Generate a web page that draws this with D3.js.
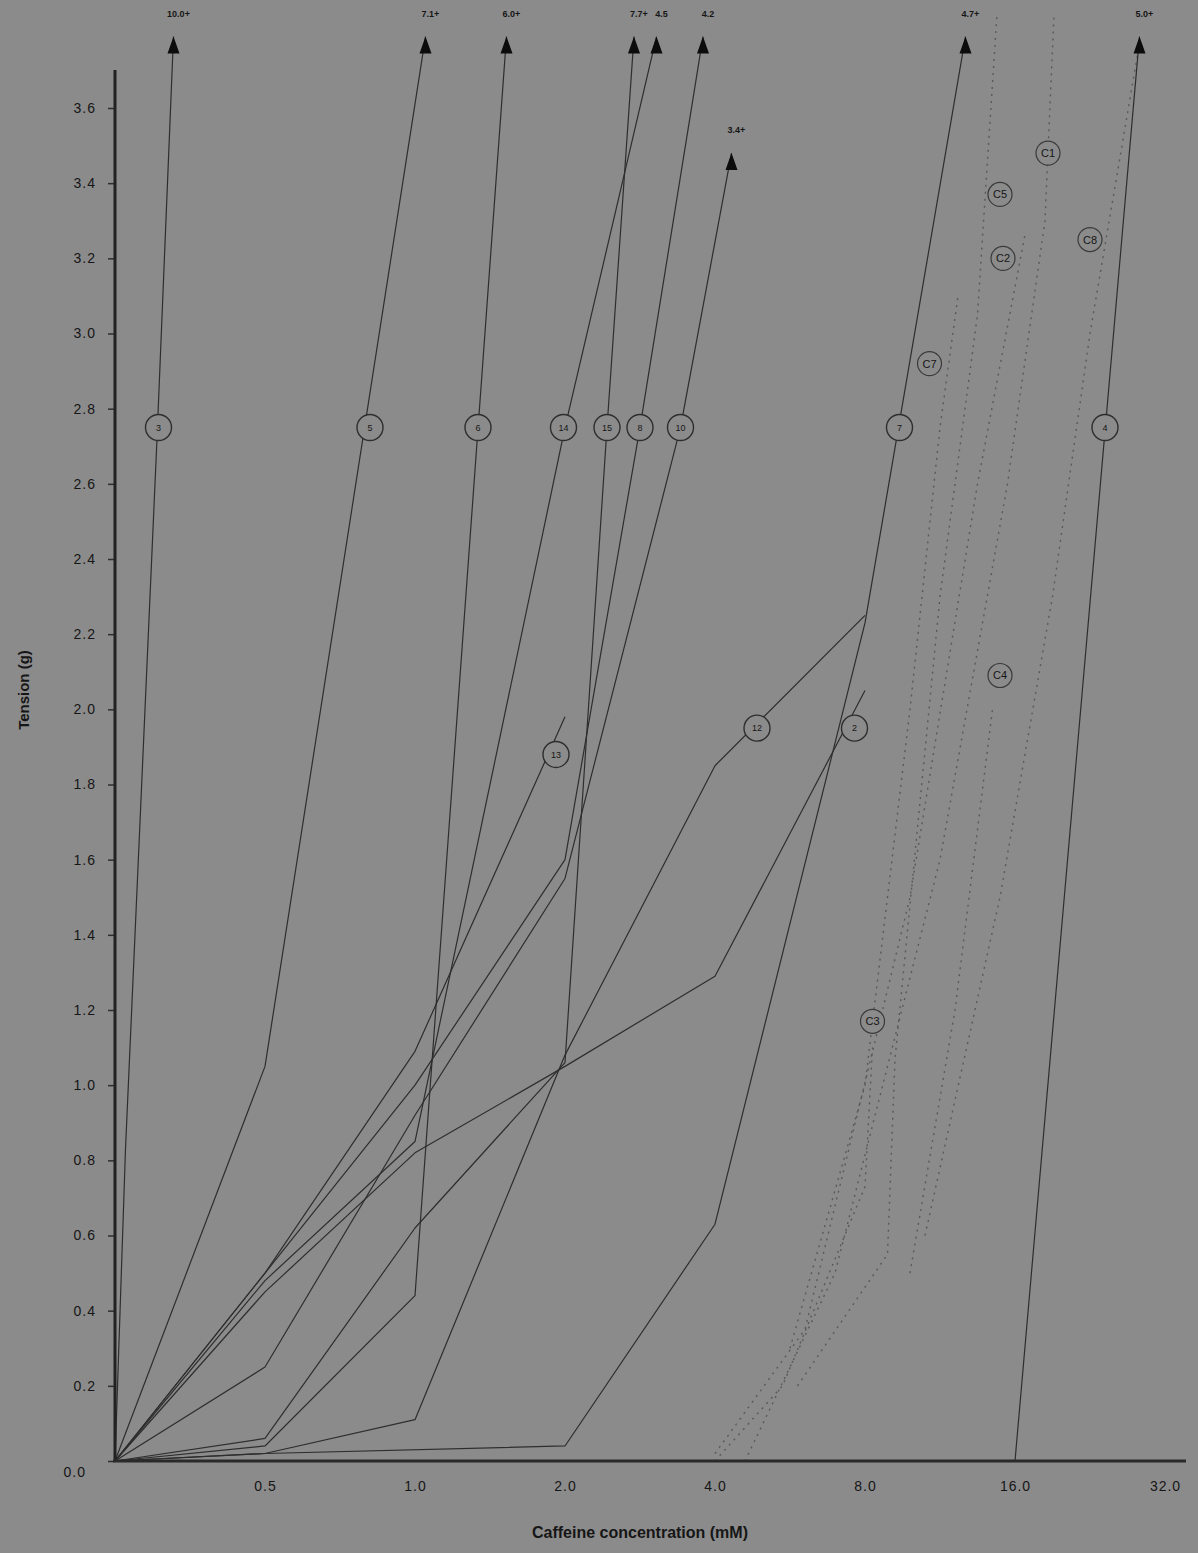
<!DOCTYPE html>
<html>
<head>
<meta charset="utf-8">
<script src="https://cdn.jsdelivr.net/npm/d3@7"></script>
<style>
  body { margin: 0; background: #8b8b8b; }
  text { font-family: "Liberation Sans", Arial, sans-serif; fill: #161616; }
</style>
</head>
<body>
<div id="chart"></div>
<script>
// concentration categories, placed at index 1..7 (index 0 = no caffeine)
var concLabels = ["0.5", "1.0", "2.0", "4.0", "8.0", "16.0", "32.0"];
var tensionTicks = [0.0, 0.2, 0.4, 0.6, 0.8, 1.0, 1.2, 1.4, 1.6, 1.8, 2.0, 2.2, 2.4, 2.6, 2.8, 3.0, 3.2, 3.4, 3.6];

// fibre responses: [concentration index, tension g]
var fibre3  = [[0, 0], [0.07, 0.83], [0.28, 2.72], [0.39, 3.79]];
var fibre5  = [[0, 0], [1, 1.05], [2.07, 3.79]];
var fibre6  = [[0, 0], [1, 0.04], [2, 0.44], [2.61, 3.79]];
var fibre14 = [[0, 0], [1, 0.48], [2, 0.85], [3, 2.75], [3.61, 3.79]];
var fibre15 = [[0, 0], [1, 0.06], [2, 0.62], [3, 1.06], [3.28, 2.75], [3.46, 3.79]];
var fibre8  = [[0, 0], [1, 0.5], [2, 1.0], [3, 1.6], [3.5, 2.75], [3.92, 3.79]];
var fibre10 = [[0, 0], [1, 0.25], [2, 0.92], [3, 1.55], [3.77, 2.75], [4.11, 3.48]];
var fibre13 = [[0, 0], [1, 0.5], [2, 1.09], [3, 1.98]];
var fibre12 = [[0, 0], [1, 0.02], [2, 0.11], [3, 1.08], [4, 1.85], [5, 2.25]];
var fibre2  = [[0, 0], [1, 0.45], [2, 0.82], [3, 1.05], [4, 1.29], [5, 2.05]];
var fibre7  = [[0, 0], [1, 0.02], [3, 0.04], [4, 0.63], [5, 2.23], [5.67, 3.79]];
var fibre4  = [[0, 0], [6, 0], [6.83, 3.79]];

// off-scale values written above the arrows
var fibreCaps = [
  ["10.0+", fibre3], ["7.1+", fibre5], ["6.0+", fibre6], ["7.7+", fibre15], ["4.5", fibre14],
  ["4.2", fibre8], ["3.4+", fibre10], ["4.7+", fibre7], ["5.0+", fibre4]
];

// control fibres (dotted)
var controlC1 = [[4.2, 0.0], [4.8, 0.5], [5.5, 1.6], [5.95, 2.6], [6.2, 3.3], [6.26, 3.85]];
var controlC5 = [[4.55, 0.2], [5.15, 0.55], [5.2, 1.07], [5.5, 2.3], [5.75, 3.05], [5.88, 3.85]];
var controlC2 = [[4.0, 0.02], [4.6, 0.35], [5.3, 1.5], [5.75, 2.6], [6.07, 3.27]];
var controlC8 = [[5.4, 0.6], [5.9, 1.5], [6.25, 2.3], [6.5, 3.0], [6.82, 3.75]];
var controlC7 = [[4.5, 0.3], [5.0, 1.0], [5.3, 2.0], [5.5, 2.75], [5.62, 3.1]];
var controlC4 = [[5.3, 0.5], [5.6, 1.2], [5.85, 2.0]];
var controlC3 = [[4.0, 0.0], [4.45, 0.2], [5.0, 0.73], [5.05, 1.1]];

// circled identifiers: [text, concentration index, tension]
var fibreTags = [
  ["3", 0.29, 2.75], ["5", 1.70, 2.75], ["6", 2.42, 2.75], ["14", 2.99, 2.75], ["15", 3.28, 2.75],
  ["8", 3.50, 2.75], ["10", 3.77, 2.75], ["7", 5.23, 2.75], ["4", 6.60, 2.75],
  ["13", 2.94, 1.88], ["12", 4.28, 1.95], ["2", 4.93, 1.95]
];
var controlTags = [
  ["C1", 6.22, 3.48], ["C5", 5.90, 3.37], ["C2", 5.92, 3.20], ["C8", 6.50, 3.25],
  ["C7", 5.43, 2.92], ["C4", 5.90, 2.09], ["C3", 5.05, 1.17]
];

var width = 1198, height = 1553, bg = "#8b8b8b", ink = "#2e2e2e";

var svg = d3.select("#chart").append("svg")
    .attr("width", width)
    .attr("height", height);

svg.append("rect").attr("width", width).attr("height", height).attr("fill", bg);

var x = d3.scaleLinear().domain([0, 7]).range([115, 1165]);
var y = d3.scaleLinear().domain([0, 3.6]).range([1461, 108]);

var line = d3.line().x(function (d) { return x(d[0]); }).y(function (d) { return y(d[1]); });

//dotted control curves first, they sit under everything
var controls = [controlC1, controlC5, controlC2, controlC8, controlC7, controlC4, controlC3];
svg.append("g").selectAll("path").data(controls).enter().append("path")
    .attr("d", line)
    .attr("fill", "none")
    .attr("stroke", "#4a4a4a")
    .attr("stroke-width", 1.4)
    .attr("stroke-dasharray", "2,5")
    .attr("opacity", 0.75);

var fibres = [fibre3, fibre5, fibre6, fibre14, fibre15, fibre8, fibre10, fibre13, fibre12, fibre2, fibre7, fibre4];
svg.append("g").selectAll("path").data(fibres).enter().append("path")
    .attr("d", line)
    .attr("fill", "none")
    .attr("stroke", ink)
    .attr("stroke-width", 1.2)
    .attr("stroke-linejoin", "round");

// arrows + off-scale values at the end of each clipped line
var caps = svg.append("g").selectAll("g").data(fibreCaps).enter().append("g")
    .attr("transform", function (d) {
        var end = d[1][d[1].length - 1];
        return "translate(" + x(end[0]) + "," + y(end[1]) + ")";
    });
caps.append("path")
    .attr("d", "M0,0 L-6,17 L6,17 Z")
    .attr("fill", "#0c0c0c");
caps.append("text")
    .attr("x", 5)
    .attr("y", -20)
    .attr("text-anchor", "middle")
    .style("font-size", "9px")
    .style("font-weight", "bold")
    .text(function (d) { return d[0]; });

// axes
var xAxis = d3.axisBottom(x)
    .tickValues(d3.range(1, 8))
    .tickSize(0)
    .tickPadding(20)
    .tickFormat(function (d) { return concLabels[d - 1]; });
var xAxisGroup = svg.append("g").attr("transform", "translate(0," + y(0) + ")").call(xAxis);
xAxisGroup.select(".domain").remove();
xAxisGroup.selectAll("text").style("font-size", "14px").style("letter-spacing", "1px").attr("fill", "#161616");

var yAxis = d3.axisLeft(y)
    .tickValues(tensionTicks)
    .tickSize(7)
    .tickPadding(12)
    .tickFormat(d3.format(".1f"));
var yAxisGroup = svg.append("g").attr("transform", "translate(" + x(0) + ",0)").call(yAxis);
yAxisGroup.select(".domain").remove();
yAxisGroup.selectAll("line").attr("stroke", ink).attr("stroke-width", 1.5);
yAxisGroup.selectAll("text").style("font-size", "14px").style("letter-spacing", "1px").attr("fill", "#161616");
//the zero label sits a bit below-left of the corner
yAxisGroup.selectAll(".tick").filter(function (d) { return d === 0; }).select("text")
    .attr("dx", -10).attr("dy", "1.1em");

svg.append("line")
    .attr("x1", x(0)).attr("x2", x(0))
    .attr("y1", y(0) + 1).attr("y2", 70)
    .attr("stroke", "#222").attr("stroke-width", 3);
svg.append("line")
    .attr("x1", x(0) - 2).attr("x2", 1186)
    .attr("y1", y(0)).attr("y2", y(0))
    .attr("stroke", "#2a2a2a").attr("stroke-width", 3);

// circled tags
var tags = svg.append("g").selectAll("g").data(fibreTags).enter().append("g")
    .attr("transform", function (d) { return "translate(" + x(d[1]) + "," + y(d[2]) + ")"; });
tags.append("circle").attr("r", 13).attr("fill", bg).attr("stroke", ink).attr("stroke-width", 1.4);
tags.append("text")
    .attr("text-anchor", "middle")
    .attr("dy", "0.35em")
    .style("font-size", "9px")
    .attr("fill", "#2a2a2a")
    .text(function (d) { return d[0]; });

var ctags = svg.append("g").selectAll("g").data(controlTags).enter().append("g")
    .attr("transform", function (d) { return "translate(" + x(d[1]) + "," + y(d[2]) + ")"; });
ctags.append("circle").attr("r", 12).attr("fill", bg).attr("stroke", "#3a3a3a").attr("stroke-width", 1.2);
ctags.append("text")
    .attr("text-anchor", "middle")
    .attr("dy", "0.36em")
    .style("font-size", "11px")
    .text(function (d) { return d[0]; });

// titles
svg.append("text")
    .attr("transform", "translate(29,690) rotate(-90)")
    .attr("text-anchor", "middle")
    .style("font-size", "15px")
    .style("font-weight", "bold")
    .text("Tension (g)");
svg.append("text")
    .attr("x", 640)
    .attr("y", 1538)
    .attr("text-anchor", "middle")
    .style("font-size", "16px")
    .style("font-weight", "bold")
    .text("Caffeine concentration (mM)");
</script>
</body>
</html>
